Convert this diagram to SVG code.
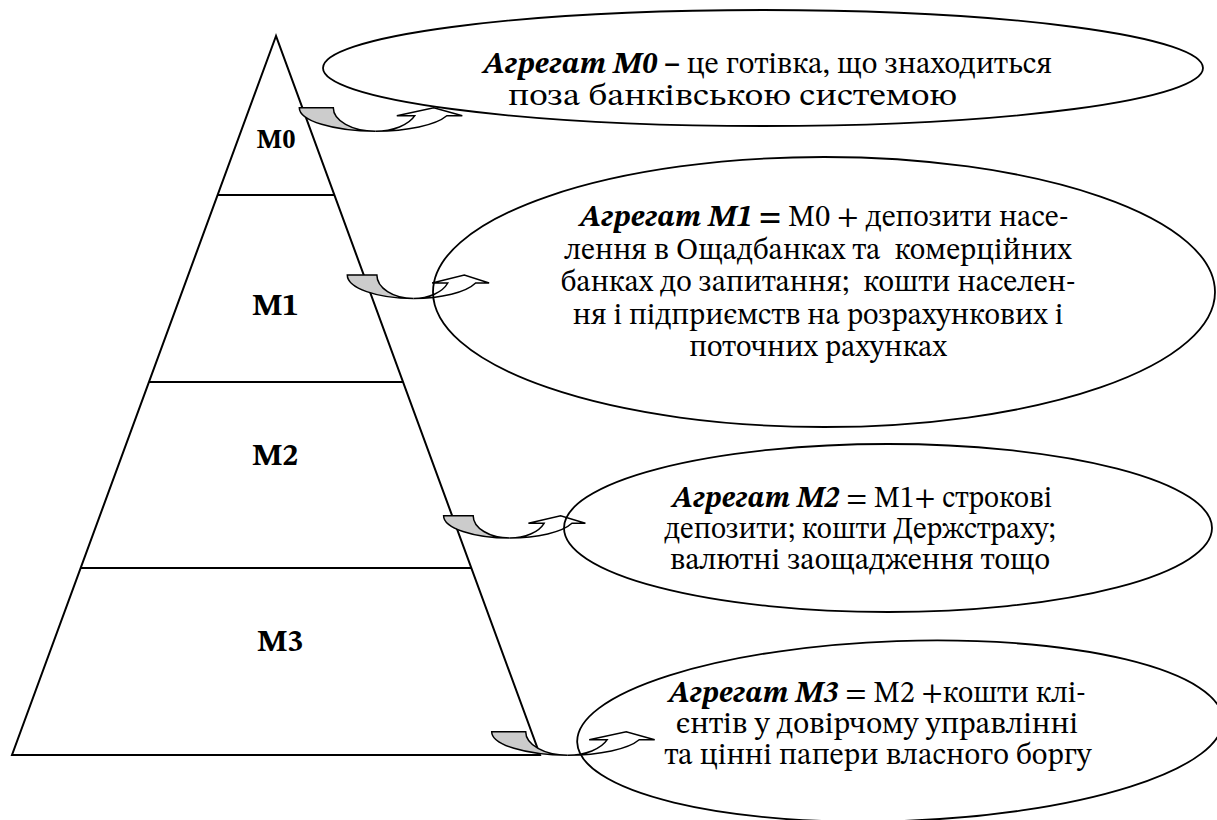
<svg xmlns="http://www.w3.org/2000/svg" width="1217" height="820" viewBox="0 0 1217 820">
<style>
.ln{stroke:#000;stroke-width:2;fill:none}
.ell{fill:none;stroke:#000;stroke-width:1.8}
.t{font-family:'STIX Two Text','DejaVu Serif',serif;font-size:30px;fill:#000;white-space:pre;text-anchor:middle}
.lbl{font-family:'STIX Two Text','DejaVu Serif',serif;font-weight:bold;font-size:31px;text-anchor:middle;fill:#000}
.bi{font-weight:bold;font-style:italic}
.b{font-weight:bold}
.back{fill:#cccccc;stroke:#000;stroke-width:1.5;vector-effect:non-scaling-stroke}
.front{fill:#fff;stroke:#000;stroke-width:1.5;vector-effect:non-scaling-stroke}
</style>
<defs>
<g id="carrow">
<path class="back" d="M0,0 L34,0 A42,23.5 0 0 0 76,23.5 A76,23.5 0 0 1 0,0 Z"/>
<path class="front" d="M76,23.5 A42,23.5 0 0 0 115.5,8 L97.5,8 L134.5,0 L163,8 L147.5,8 A76,23.5 0 0 1 76,23.5 Z"/>
</g>
</defs>
<g id="pyramid">
<polygon class="ln" points="276,36 12,755 540,755"/>
<line class="ln" x1="217.6" y1="195" x2="334.4" y2="195"/>
<line class="ln" x1="149" y1="382" x2="403" y2="382"/>
<line class="ln" x1="80.7" y1="568" x2="471.3" y2="568"/>
</g>
<g id="tier-m0"><text class="lbl" x="276" y="148" style="font-size:26px">M0</text></g>
<g id="tier-m1"><text class="lbl" x="275" y="315">M1</text></g>
<g id="tier-m2"><text class="lbl" x="275" y="465">M2</text></g>
<g id="tier-m3"><text class="lbl" x="280" y="651">M3</text></g>
<g id="connectors">
<use href="#carrow" transform="translate(299.3,107.7)"/>
<use href="#carrow" transform="translate(347.3,275) scale(0.87,1)"/>
<use href="#carrow" transform="translate(443.6,515.7) scale(0.87,0.95)"/>
<use href="#carrow" transform="translate(491.7,731.7)"/>
</g>
<g id="agg-m0">
<ellipse class="ell" cx="763" cy="68" rx="440" ry="58"/>
<text class="t" x="767.5" y="73" textLength="569" lengthAdjust="spacingAndGlyphs"><tspan class="bi">Агрегат М0</tspan><tspan class="b"> – </tspan>це готівка, що знаходиться</text>
<text class="t" x="732.5" y="105" textLength="449" lengthAdjust="spacingAndGlyphs">поза банківською системою</text>
</g>
<g id="agg-m1">
<ellipse class="ell" cx="824" cy="292" rx="391" ry="135"/>
<text class="t" x="824" y="226"><tspan class="bi">Агрегат М1 </tspan><tspan class="b">=</tspan> М0 + депозити насе-</text>
<text class="t" x="818" y="258.5">лення в Ощадбанках та  комерційних</text>
<text class="t" x="818" y="291">банках до запитання;  кошти населен-</text>
<text class="t" x="818" y="323.5">ня і підприємств на розрахункових і</text>
<text class="t" x="818" y="356">поточних рахунках</text>
</g>
<g id="agg-m2">
<ellipse class="ell" cx="888" cy="528" rx="324" ry="84"/>
<text class="t" x="862" y="507" textLength="380" lengthAdjust="spacingAndGlyphs"><tspan class="bi">Агрегат М2</tspan> = М1+ строкові</text>
<text class="t" x="860" y="538" textLength="391" lengthAdjust="spacingAndGlyphs">депозити; кошти Держстраху;</text>
<text class="t" x="860" y="569" textLength="380" lengthAdjust="spacingAndGlyphs">валютні заощадження тощо</text>
</g>
<g id="agg-m3">
<ellipse class="ell" cx="900" cy="731" rx="323" ry="90" transform="rotate(-2 900 731)"/>
<text class="t" x="877" y="702" textLength="417" lengthAdjust="spacingAndGlyphs"><tspan class="bi">Агрегат М3</tspan> = М2 +кошти клі-</text>
<text class="t" x="877" y="733" textLength="402" lengthAdjust="spacingAndGlyphs">єнтів у довірчому управлінні</text>
<text class="t" x="878" y="764" textLength="427" lengthAdjust="spacingAndGlyphs">та цінні папери власного боргу</text>
</g>
</svg>
